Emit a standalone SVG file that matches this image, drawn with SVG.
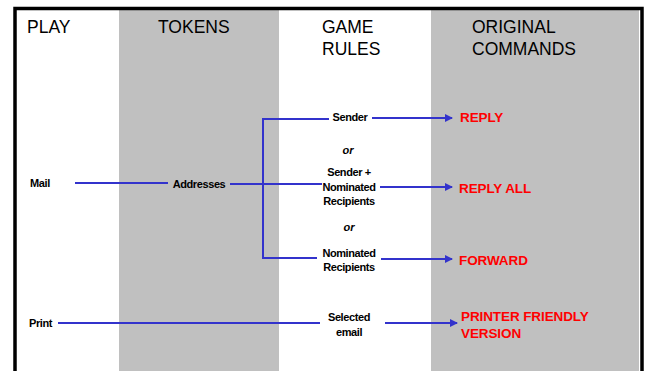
<svg xmlns="http://www.w3.org/2000/svg" width="647" height="371" viewBox="0 0 647 371">
<style>
.hdr{font-family:"Liberation Sans",Arial,sans-serif;font-size:17.5px;fill:#000}
.lbl{font-family:"Liberation Sans",Arial,sans-serif;font-size:11px;font-weight:bold;fill:#000;letter-spacing:-0.4px}
.or{font-family:"Liberation Sans",Arial,sans-serif;font-size:11px;font-weight:bold;font-style:italic;fill:#000}
.cmd{font-family:"Liberation Sans",Arial,sans-serif;font-size:13.5px;font-weight:bold;fill:#ff0000;letter-spacing:-0.1px}
.ln{stroke:#3333cc;stroke-width:2;fill:none}
</style>
<defs>
<marker id="ah" markerWidth="8" markerHeight="8" refX="7" refY="4" orient="auto" markerUnits="userSpaceOnUse">
<path d="M0,0 L8,4 L0,8 Z" fill="#3333cc"/>
</marker>
</defs>
<rect width="647" height="371" fill="#fff"/>
<g id="columns">
<rect x="119" y="10" width="160" height="361" fill="#c0c0c0"/>
<rect x="431" y="10" width="208" height="361" fill="#c0c0c0"/>
</g>
<g id="border" fill="none" stroke="#000" stroke-width="3.5">
<path d="M15,371 V8.5 H642 V371"/>
</g>
<g id="headers">
<text class="hdr" x="27" y="33">PLAY</text>
<text class="hdr" x="158" y="33">TOKENS</text>
<text class="hdr" x="322" y="33">GAME</text>
<text class="hdr" x="322" y="55">RULES</text>
<text class="hdr" x="472" y="33">ORIGINAL</text>
<text class="hdr" x="472" y="55">COMMANDS</text>
</g>
<g id="connectors">
<path class="ln" d="M75,183 H168"/>
<path class="ln" d="M230,184 H322"/>
<path class="ln" d="M329,119 H263 V258 H317"/>
<path class="ln" d="M372,118 H452" marker-end="url(#ah)"/>
<path class="ln" d="M380,187 H452" marker-end="url(#ah)"/>
<path class="ln" d="M381,259 H452" marker-end="url(#ah)"/>
<path class="ln" d="M58,323 H320"/>
<path class="ln" d="M385,323 H457" marker-end="url(#ah)"/>
</g>
<g id="mail"><text class="lbl" x="30" y="187">Mail</text></g>
<g id="print"><text class="lbl" x="29" y="327">Print</text></g>
<g id="addresses"><text class="lbl" x="199" y="188" text-anchor="middle">Addresses</text></g>
<g id="sender"><text class="lbl" x="350" y="121" text-anchor="middle">Sender</text></g>
<g id="or1"><text class="or" x="348" y="154" text-anchor="middle">or</text></g>
<g id="sender-nominated">
<text class="lbl" x="349" y="176" text-anchor="middle">Sender +</text>
<text class="lbl" x="349" y="191" text-anchor="middle">Nominated</text>
<text class="lbl" x="349" y="205" text-anchor="middle">Recipients</text>
</g>
<g id="or2"><text class="or" x="349" y="231" text-anchor="middle">or</text></g>
<g id="nominated">
<text class="lbl" x="349" y="257" text-anchor="middle">Nominated</text>
<text class="lbl" x="349" y="271" text-anchor="middle">Recipients</text>
</g>
<g id="selected">
<text class="lbl" x="349" y="321" text-anchor="middle">Selected</text>
<text class="lbl" x="349" y="336" text-anchor="middle">email</text>
</g>
<g id="reply"><text class="cmd" x="460" y="122">REPLY</text></g>
<g id="replyall"><text class="cmd" x="459" y="193">REPLY ALL</text></g>
<g id="forward"><text class="cmd" x="459" y="265">FORWARD</text></g>
<g id="printer">
<text class="cmd" x="461" y="321">PRINTER FRIENDLY</text>
<text class="cmd" x="461" y="338">VERSION</text>
</g>
</svg>
